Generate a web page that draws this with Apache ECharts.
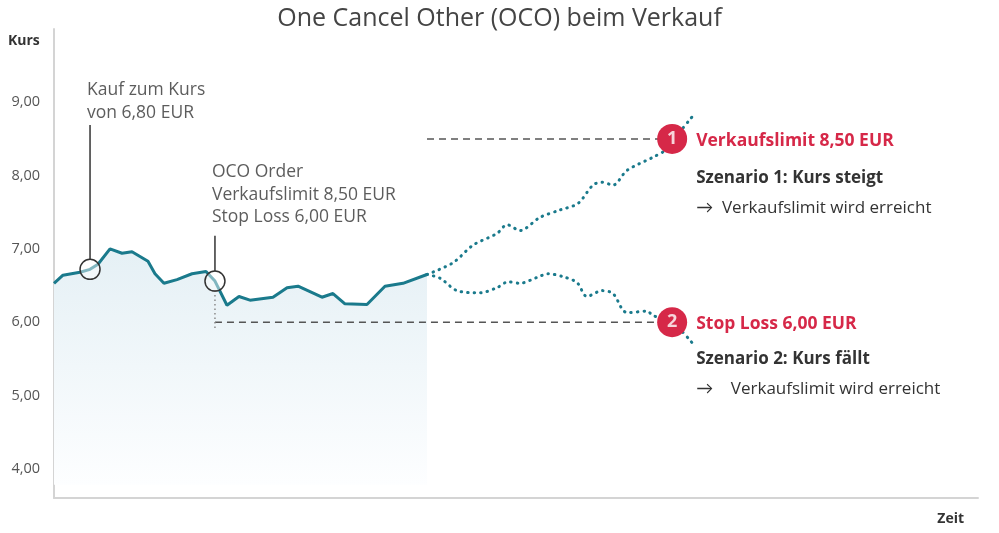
<!DOCTYPE html>
<html><head><meta charset="utf-8">
<script src="https://cdn.jsdelivr.net/npm/echarts@6/dist/echarts.min.js"></script>
<style>html,body{margin:0;padding:0;background:#fff}#c{width:999px;height:533px}</style>
</head><body><div id="c"></div>
<script>
// ---- data ----
const titleText = 'One Cancel Other (OCO) beim Verkauf';
const yTicks = [4, 5, 6, 7, 8, 9];
// main price path (time units 0..100)
const mainX = [0,0.97,2.81,3.9,4.76,6.06,7.36,8.44,10.17,10.93,11.9,13.31,14.94,16.45,17.42,18.72,20.02,21.21,23.7,25.22,26.41,29.0,30.19,31.49,33.87,35.82,37.77,40.37];
const mainY = [6.53,6.64,6.68,6.72,6.79,7.0,6.94,6.96,6.83,6.66,6.53,6.58,6.66,6.69,6.56,6.23,6.35,6.3,6.34,6.47,6.49,6.34,6.39,6.25,6.24,6.49,6.53,6.65];
// scenario 1: rising
const upX = [40.37,43.18,45.35,47.94,49.03,50.43,52.6,54.76,56.71,58.33,59.31,60.5,62.01,64.83,66.34,67.0,69.05];
const upY = [6.65,6.81,7.05,7.21,7.33,7.25,7.43,7.53,7.62,7.87,7.91,7.87,8.07,8.25,8.36,8.48,8.8];
// scenario 2: falling
const downX = [40.37,41.77,43.61,46.1,47.94,49.13,50.43,52.27,53.46,55.09,56.6,57.68,59.31,60.5,61.58,62.12,64.18,64.83,66.88,69.05];
const downY = [6.65,6.6,6.43,6.4,6.47,6.55,6.53,6.61,6.66,6.62,6.54,6.35,6.43,6.39,6.16,6.13,6.15,6.09,6.0,5.72];
// levels and annotation anchors
const sellLimit = 8.5;
const stopLoss = 6.0;
const buyPoint = [3.9, 6.72];
const orderPoint = [17.42, 6.56];
const buyLabelTop = 8.69;
const orderLabelTop = 7.18;
const stopDropEnd = 5.91;
const markerX = 66.9;
const circleGap = 0.13;

const red = '#d62848';
const teal = '#1a7a8c';
const txt = '#333';
const font = '"Open Sans", Lato, sans-serif';

const zip = (xs, ys) => xs.map((x, i) => [x, ys[i]]);

const chart = echarts.init(document.getElementById('c'), null, {renderer: 'canvas'});
const option = {
  animation: false,
  backgroundColor: '#fff',
  textStyle: {fontFamily: font},
  title: {text: titleText, left: 'center', top: 1,
    textStyle: {fontFamily: font, fontSize: 25, fontWeight: 'normal', color: '#444'}},
  grid: {left: 54, right: 21, top: 29, bottom: 35},
  xAxis: {type: 'value', min: 0, max: 100,
    axisLine: {show: true, lineStyle: {color: '#d4d4d4', width: 2}},
    axisTick: {show: false}, axisLabel: {show: false}, splitLine: {show: false}},
  yAxis: {type: 'value', min: 3.6, max: 10,
    axisLine: {show: true, lineStyle: {color: '#d4d4d4', width: 2}},
    axisTick: {show: false}, splitLine: {show: false},
    axisLabel: {show: true, customValues: yTicks, margin: 14, color: '#555', fontSize: 14.5, fontFamily: font,
      formatter: v => v.toFixed(2).replace('.', ',')}},
  graphic: [
    {type: 'text', left: 8, top: 34, style: {text: 'Kurs', font: 'bold 14px ' + font, fill: '#333'}},
    {type: 'text', right: 35, top: 512, style: {text: 'Zeit', font: 'bold 14px ' + font, fill: '#333'}}
  ],
  series: [
    {type: 'line', name: 'Kurs', data: zip(mainX, mainY), symbol: 'none', z: 3,
      lineStyle: {color: teal, width: 3},
      areaStyle: {origin: 3.78, opacity: 1, color: new echarts.graphic.LinearGradient(0, 0, 0, 1, [
        {offset: 0, color: '#e5f0f5'}, {offset: 1, color: '#fdfeff'}])}},
    {type: 'line', name: 'Szenario 1', data: zip(upX, upY), symbol: 'none', smooth: 0.3, z: 3,
      lineStyle: {color: teal, width: 3, type: [0.5, 6], cap: 'round'}},
    {type: 'line', name: 'Szenario 2', data: zip(downX, downY), symbol: 'none', smooth: 0.3, z: 3,
      lineStyle: {color: teal, width: 3, type: [0.5, 6], cap: 'round'}},
    // level lines
    {type: 'line', data: [[mainX[mainX.length - 1], sellLimit], [markerX, sellLimit]], symbol: 'none', z: 4,
      lineStyle: {color: '#555', width: 1.5, type: [7, 5]}},
    {type: 'line', data: [[orderPoint[0], stopLoss], [markerX, stopLoss]], symbol: 'none', z: 4,
      lineStyle: {color: '#555', width: 1.5, type: [7, 5]}},
    {type: 'line', data: [[orderPoint[0], orderPoint[1] - circleGap], [orderPoint[0], stopDropEnd]], symbol: 'none', z: 4,
      lineStyle: {color: '#8a8a8a', width: 1.5, type: [1.5, 3]}},
    // connectors
    {type: 'line', data: [[buyPoint[0], buyPoint[1] + circleGap], [buyPoint[0], buyLabelTop]], symbol: 'none', z: 4,
      lineStyle: {color: '#333', width: 1.5}},
    {type: 'line', data: [[orderPoint[0], orderPoint[1] + circleGap], [orderPoint[0], orderLabelTop]], symbol: 'none', z: 4,
      lineStyle: {color: '#333', width: 1.5}},
    // annotation labels (invisible anchors)
    {type: 'scatter', symbolSize: 0, z: 5, silent: true,
      data: [
        {value: [buyPoint[0], buyLabelTop], label: {formatter: 'Kauf zum Kurs\nvon 6,80 EUR', distance: 1}},
        {value: [orderPoint[0], orderLabelTop], label: {formatter: 'OCO Order\nVerkaufslimit 8,50 EUR\nStop Loss 6,00 EUR', distance: 7}}
      ],
      label: {show: true, position: 'top', align: 'left', offset: [-3, 0], color: txt, fontSize: 17.5, lineHeight: 22.5, fontFamily: font}},
    // hollow circles
    {type: 'scatter', data: [buyPoint, orderPoint], symbol: 'circle', symbolSize: 20, z: 6,
      itemStyle: {color: 'rgba(255,255,255,0.45)', borderColor: '#333', borderWidth: 1.5, opacity: 1}},
    // red numbered markers
    {type: 'scatter', symbol: 'circle', symbolSize: 30, z: 7,
      itemStyle: {color: red, opacity: 1},
      data: [
        {value: [markerX, sellLimit], label: {
          formatter: '{r|Verkaufslimit 8,50 EUR}\n{s|Szenario 1: Kurs steigt}\n{t|→  Verkaufslimit wird erreicht}',
          rich: {r: {color: red, fontWeight: 'bold', fontSize: 17.5, lineHeight: 40, fontFamily: font},
                 s: {color: txt, fontWeight: 'bold', fontSize: 17, lineHeight: 34, fontFamily: font},
                 t: {color: txt, fontSize: 17, lineHeight: 26, fontFamily: font}}}},
        {value: [markerX, stopLoss], label: {
          formatter: '{r|Stop Loss 6,00 EUR}\n{s|Szenario 2: Kurs fällt}\n{t|→    Verkaufslimit wird erreicht}',
          rich: {r: {color: red, fontWeight: 'bold', fontSize: 17.5, lineHeight: 40, fontFamily: font},
                 s: {color: txt, fontWeight: 'bold', fontSize: 17, lineHeight: 30, fontFamily: font},
                 t: {color: txt, fontSize: 17, lineHeight: 30, fontFamily: font}}}}
      ],
      label: {show: true, position: 'right', distance: 9, verticalAlign: 'top', offset: [0, -18], align: 'left'}},
    {type: 'scatter', symbolSize: 0, z: 8, silent: true,
      data: [{value: [markerX, sellLimit], label: {formatter: '1'}}, {value: [markerX, stopLoss], label: {formatter: '2'}}],
      label: {show: true, position: 'inside', color: '#fff', fontWeight: 'bold', fontSize: 18, fontFamily: font}}
  ]
};
chart.setOption(option);
</script>
</body></html>
